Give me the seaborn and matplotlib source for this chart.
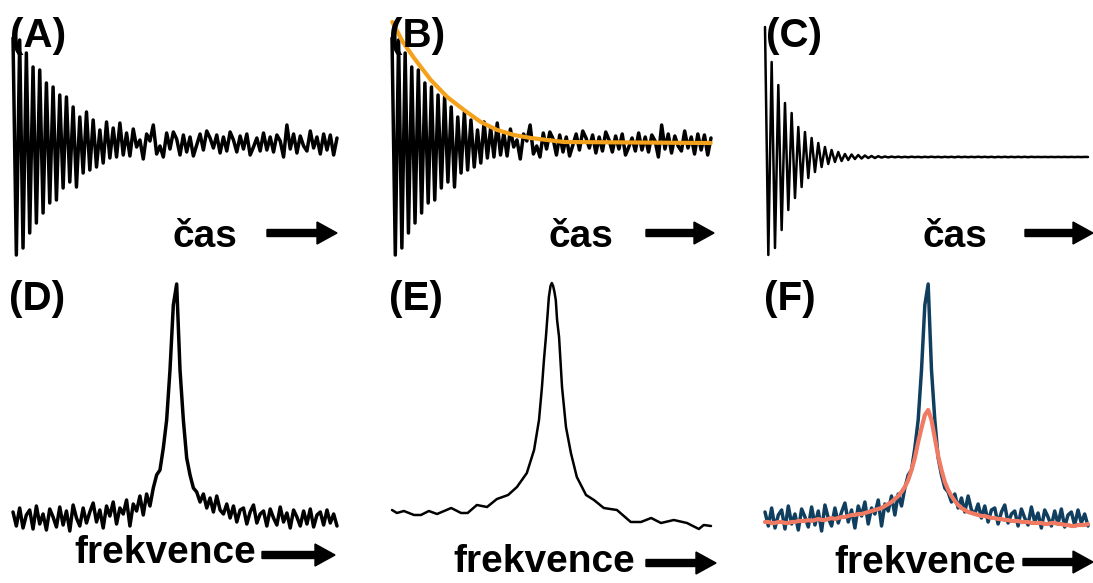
import numpy as np
import seaborn as sns
import matplotlib
matplotlib.use('Agg')
import matplotlib.pyplot as plt
from matplotlib.patches import FancyArrow

# --- data (arbitrary amplitude units) ---
# FID used in (A) and (B): decaying oscillation, then noise
fid_osc = [105, -112, 103, -105, 90, -90, 76, -80, 73, -70,
           60, -60, 56, -57, 48, -45, 46, -39, 36, -44,
           26, -30, 31, -27, 23, -24, 13, -20, 21, -15,
           15, -14, 20, -12]
fid_noise = [10, -13, 14, -4, 3, -16, 9, 2, 18, -11,
             -3, -14, 10, -6, 11, 4, -12, 8, -9, 6,
             -13, -2, 9, -7, 12, 5, -5, 8, -10, 6,
             -8, 11, 3, -9, 7, -6, 9, -12, -4, 5,
             -8, 10, -7, 6, -9, 8, 2, -14, 18, -6,
             9, -10, 7, -3, -8, 12, -5, 6, -11, 9,
             -7, 8, -12, 5]

# fitted envelope in (B)
env_t = [0.1, 3.3, 6.7, 11.8, 16.8, 21.9, 27.0, 32.0, 37.1, 42.2, 52.3, 96.9]
env_v = [121, 101, 85, 63, 46, 33, 21, 13, 8, 5, 1, 0]

# (C): noiseless, fast-decaying FID
fid_c_osc = [130, -98, 95, -91, 72, -73, 54, -53, 44,
             -41, 30, -30, 25, -21, 19, -15, 14, -10, 10,
             -7, 7, -5, 5, -4, 3, -3, 2.5, -2, 2,
             -1.5, 1.5, -1, 1, -1, 0.8, -0.6, 0.5, -0.4, 0.4,
             -0.3, 0.3]
fid_c_tail = [-0.3, 0.2, -0.3, 0.3, -0.2, 0.2, -0.3, 0.2, -0.2, 0.3,
              -0.2, 0.2, -0.3, 0.2, -0.2, 0.2, -0.3, 0.3, -0.2, 0.2,
              -0.2, 0.2, -0.2, 0.3, -0.2, 0.2, -0.2, 0.2, -0.3, 0.2,
              -0.2, 0.2, -0.2, 0.2, -0.2, 0.2, -0.2, 0.2, -0.2, 0.2,
              -0.1, 0.1, -0.1, 0.1, -0.1, 0.1, -0.1, 0.1, -0.1, 0.1,
              -0.1, 0.1, -0.1, 0.1, -0.1, 0.1, 0.0]

# noisy spectrum in (D) and (F)
spec_left = [8, -6, 12, -8, 5, 10, -9, 14, -4, 6,
             -10, 11, 3, -7, 13, -5, 9, -11, 15, 2,
             -6, 12, -3, 8, 17, -2, 10, -8, 14, 4,
             18, -4, 12, 6, 20, -6, 16, 9, 24, 5,
             26, 14]
spec_peak = [32, 45, 50, 72, 100, 150, 215, 236, 150, 100, 62, 45, 32]
spec_right = [28, 18, 26, 12, 22, 8, 24, 10, 6, 16,
              2, 14, -2, 10, 12, -4, 8, 15, -3, 6,
              9, -6, 11, 2, -5, 13, -2, 7, -8, 10,
              3, -6, 9, -4, 11, -7, 5, 8, -5, 10,
              -3, 6, -6]

# smooth spectrum in (E)
e_freq = [0, 1.5, 3.6, 6.7, 8.8, 11.2, 13.7, 18.0, 21.0, 23.0,
          25.8, 28.9, 31.9, 35.3, 38.0, 41.0, 43.2, 44.7, 45.6, 46.2,
          46.8, 47.3, 47.7, 48.2, 48.6, 49.0, 49.4, 49.8, 50.2, 50.8,
          51.7, 52.9, 54.4, 56.2, 59.0, 61.4, 64.4, 68.4, 72.6, 75.7,
          78.8, 81.8, 85.7, 89.7, 93.3, 94.8, 97.0]
e_height = [10, 7, 9, 5, 5, 9, 6, 12, 7, 7,
            15, 13, 21, 25, 33, 47, 70, 100, 133, 160,
            183, 205, 223, 234, 237, 234, 228, 220, 200, 183,
            133, 93, 67, 43, 25, 20, 12, 10, -2, -2,
            2, -3, 0, -3, -9, -5, -6]

# matched-filter result in (F)
f_fit = [-2, -2, -3, -3, -2, -2, -3, -3, -2, -2, -1,
         -1, -1, 0, -1, 0, 1, 0, 0, 1, 2,
         1, 2, 3, 3, 4, 5, 5, 6, 6, 7,
         8, 9, 10, 11, 12, 14, 16, 18,
         21, 24, 28, 33, 40, 50, 62, 78, 92, 105, 110, 100,
         82, 64, 50, 38, 30, 24, 19, 15, 12, 10,
         8, 7, 6, 5, 4, 4, 3, 2, 2, 1,
         1, 0, 0, -1, -1, -1, -2, -2, -2, -3,
         -3, -3, -3, -4, -4, -3, -3, -4, -4, -5,
         -5, -6, -6, -5, -5, -5, -4]

panel_labels = ["(A)", "(B)", "(C)", "(D)", "(E)", "(F)"]
time_label = "čas"
freq_label = "frekvence"

fid = np.array(fid_osc + fid_noise, dtype=float)
fid_c = np.array(fid_c_osc + fid_c_tail, dtype=float)
spec = np.array(spec_left + spec_peak + spec_right, dtype=float)
t = np.arange(len(fid))
t_c = np.arange(len(fid_c))
f = np.arange(len(spec))
f_f = np.arange(len(f_fit))

sns.set_style("white")
plt.rcParams['font.family'] = ['Liberation Sans', 'DejaVu Sans']
plt.rcParams['text.color'] = 'black'

W, H = 1093, 583
fig = plt.figure(figsize=(W / 100, H / 100), dpi=100)


def box(l, t_, r, b):
    return [l / W, 1 - b / H, (r - l) / W, (b - t_) / H]


def panel(rect, ylim):
    ax = fig.add_axes(rect)
    ax.set_xlim(0, 97)
    ax.set_ylim(*ylim)
    ax.axis('off')
    return ax


def draw(ax, x, y, color, lw):
    sns.lineplot(x=x, y=y, ax=ax, color=color, linewidth=lw,
                 estimator=None, sort=False)
    line = ax.lines[-1]
    line.set_clip_on(False)
    line.set_solid_joinstyle('round')


ax_a = panel(box(13, 0, 337, 265), (-122, 143))
draw(ax_a, t, fid, "black", 2.5)

ax_b = panel(box(392, 0, 711, 265), (-122, 143))
draw(ax_b, t, fid, "black", 2.5)
draw(ax_b, env_t, env_v, "#F4A21C", 3.0)

ax_c = panel(box(765, 0, 1088, 265), (-108, 157))
draw(ax_c, t_c, fid_c, "black", 1.8)

ax_d = panel(box(13, 270, 337, 545), (-25, 250))
draw(ax_d, f, spec, "black", 2.5)

ax_e = panel(box(392, 270, 711, 545), (-25, 250))
draw(ax_e, e_freq, e_height, "black", 1.8)

ax_f = panel(box(765, 270, 1088, 545), (-25, 250))
draw(ax_f, f, spec, "#103E5E", 2.5)
draw(ax_f, f_f, f_fit, "#F07A62", 3.0)

# overlay in pixel coordinates for labels and arrows
ov = fig.add_axes([0, 0, 1, 1])
ov.set_xlim(0, W)
ov.set_ylim(H, 0)
ov.axis('off')
ov.patch.set_visible(False)

label_pos = [(10, 47), (389, 47), (766, 47), (9, 310), (389, 310), (764, 310)]
for txt, (x, y) in zip(panel_labels, label_pos):
    ov.text(x, y, txt, fontsize=29, fontweight='bold', color='black',
            va='baseline', ha='left')

for x, y in [(172, 247), (548, 247), (922, 247)]:
    ov.text(x, y, time_label, fontsize=28, fontweight='bold', color='black',
            va='baseline', ha='left')
for x, y in [(74, 563), (453, 572), (834, 573)]:
    ov.text(x, y, freq_label, fontsize=28, fontweight='bold', color='black',
            va='baseline', ha='left')

arrows = [(267, 337, 233), (646, 714, 233), (1025, 1093, 233),
          (262, 335, 555), (646, 716, 563), (1023, 1093, 562)]
for x0, x1, y in arrows:
    ov.add_patch(FancyArrow(x0, y, x1 - x0, 0, width=7, head_width=22,
                            head_length=20, length_includes_head=True,
                            color='black', clip_on=False))

fig.savefig("out.png", dpi=100)
